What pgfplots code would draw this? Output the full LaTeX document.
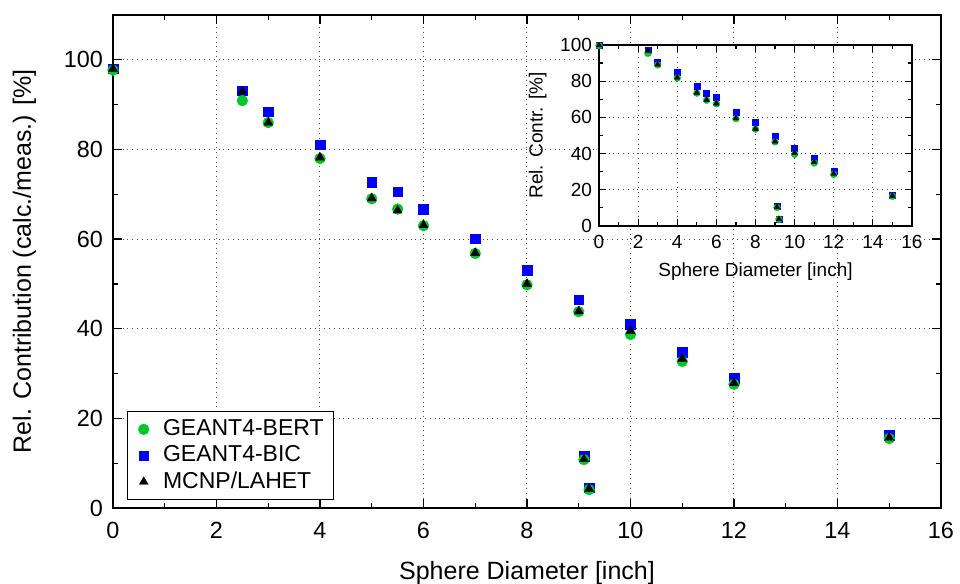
\documentclass[border=0pt]{standalone}
\usepackage{fontspec}
\setmainfont{Liberation Sans}
\usepackage{pgfplots}
\pgfplotsset{compat=1.18}

\definecolor{bertgreen}{RGB}{0,200,40}
\definecolor{bicblue}{RGB}{0,0,255}

% columns: x, BERT, BIC, MCNP
\pgfplotstableread{
x    bert  bic   mcnp
0    97.7  98.0  98.0
2.5  90.9  93.1  92.9
3    86.0  88.4  86.0
4    78.0  81.1  78.2
5    69.0  72.7  69.1
5.5  66.7  70.6  66.4
6    63.0  66.7  63.1
7    56.8  60.1  56.9
8    49.8  53.1  50.0
9    43.8  46.5  43.9
9.1  10.8  11.6  10.9
9.2   4.1   4.5   4.3
10   38.7  41.0  39.5
11   32.7  34.7  33.3
12   27.6  29.0  27.9
15   15.5  16.3  15.7
}\maindata

\pgfplotstableread{
x    bert  bic   mcnp
0    99.6  99.8  99.8
2.5  95.4  97.2  96.8
3    89.0  90.7  89.2
4    81.8  84.8  82.0
5    73.4  77.0  73.6
5.5  69.5  73.6  69.7
6    67.5  71.4  67.7
7    59.3  63.0  59.5
8    53.5  57.4  53.7
9    46.5  49.6  46.7
9.1  10.2  11.2  10.4
9.2   3.7   3.9   3.8
10   39.6  42.9  40.3
11   34.8  37.5  35.3
12   28.5  30.1  28.8
15   16.4  16.9  16.7
}\insetdata

\pgfplotsset{
  gpstyle/.style={
    scale only axis,
    xmin=0, xmax=16, ymin=0,
    xtick distance=2, minor x tick num=1,
    ytick distance=20, minor y tick num=1,
    tick align=inside,
    major tick length=4.5pt, minor tick length=2.3pt,
    every tick/.style={black, line width=0.6pt},
    axis line style={line width=1pt},
    grid=major,
    major grid style={dotted, black!70, line width=0.5pt},
    /pgf/number format/assume math mode=true,
    clip=false,
    axis background/.style={fill=white},
  },
  bert/.style={only marks, mark=*, color=bertgreen, mark options={line width=0.2pt, draw=bertgreen, fill=bertgreen}},
  bic/.style={only marks, mark=square*, color=bicblue, mark options={line width=0.2pt, draw=bicblue, fill=bicblue}},
  mcnp/.style={only marks, mark=triangle*, color=black, mark options={line width=0.2pt, draw=black, fill=black}},
}

\begin{document}
\begin{tikzpicture}
\begin{axis}[
  gpstyle,
  at={(0,0)}, anchor=south west,
  width=414pt, height=246.5pt,
  ymax=110,
  ticklabel style={font=\fontsize{11.7}{13}\selectfont},
  xticklabel style={yshift=-3.5pt},
  yticklabel style={xshift=-1.5pt},
  label style={font=\fontsize{12.5}{14}\selectfont},
  xlabel={Sphere Diameter [inch]},
  ylabel={Rel. Contribution (calc./meas.) [\%]},
  xlabel shift=4.5pt,
  ylabel shift=7pt,
  legend cell align=left,
  legend image code/.code={\path (-0.05cm,0cm) (0.38cm,0cm); \draw plot coordinates {(0.12cm,0cm)};},
  legend style={at={(rel axis cs:0.017,0.016)}, anchor=south west,
    font=\fontsize{11.5}{11.5}\selectfont, draw=black, line width=0.5pt,
    inner xsep=3pt, inner ysep=2pt, row sep=-0.5pt},
]
\addlegendimage{bert, mark size=2.7pt}
\addlegendentry{GEANT4-BERT}
\addlegendimage{bic, mark size=2.3pt}
\addlegendentry{GEANT4-BIC}
\addlegendimage{mcnp, mark size=2.5pt}
\addlegendentry{MCNP/LAHET}
\addplot[bic, mark size=2.4pt, forget plot] table[x=x, y=bic] {\maindata};
\addplot[bert, mark size=2.7pt, forget plot] table[x=x, y=bert] {\maindata};
\addplot[mcnp, mark size=2.6pt, forget plot] table[x=x, y=mcnp] {\maindata};
\end{axis}

\begin{axis}[
  gpstyle,
  at={(243pt,141pt)}, anchor=south west,
  width=156.5pt, height=90.5pt,
  ymax=100,
  ticklabel style={font=\fontsize{9.5}{11}\selectfont},
  xticklabel style={yshift=-1pt},
  label style={font=\fontsize{9.5}{11}\selectfont},
  xlabel={Sphere Diameter [inch]},
  ylabel={Rel. Contr. [\%]},
  major tick length=3.5pt, minor tick length=2pt,
]
\addplot[bic, mark size=1.5pt] table[x=x, y=bic] {\insetdata};
\addplot[bert, mark size=1.7pt] table[x=x, y=bert] {\insetdata};
\addplot[mcnp, mark size=1.6pt] table[x=x, y=mcnp] {\insetdata};
\end{axis}
\pgfresetboundingbox
\useasboundingbox (-56.5pt,-38pt) rectangle (423.5pt,254pt);
\end{tikzpicture}
\end{document}
